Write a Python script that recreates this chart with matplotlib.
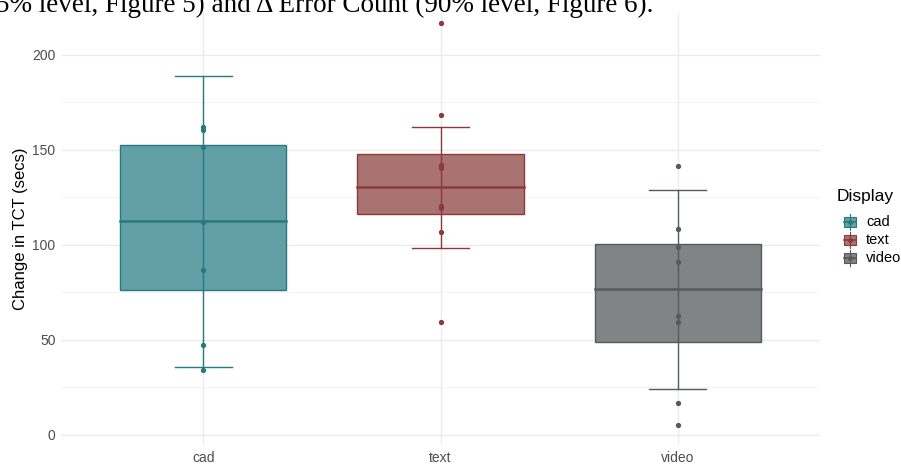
import matplotlib
matplotlib.use("Agg")
import matplotlib.pyplot as plt
from matplotlib.patches import Rectangle
from matplotlib.lines import Line2D

categories = ["cad", "text", "video"]
q1 = [76, 116, 49]
median = [112.5, 130.5, 76.5]
q3 = [152.5, 147.5, 100.5]
whisk_low = [35.5, 98, 24]
whisk_high = [189, 162, 129]
points = {
    "cad": [162, 160.5, 151.5, 112, 86.5, 47, 34.2],
    "text": [216.5, 168.4, 142, 140.4, 120.5, 119.3, 106.5, 59.5],
    "video": [141.6, 108.3, 99, 91, 62.5, 59.5, 16.5, 5.1],
}
fill_colors = ["#62a0a5", "#a97372", "#818484"]
edge_colors = ["#267a80", "#8c3a3e", "#555a5a"]
yticks = [0, 50, 100, 150, 200]
minor_yticks = [25, 75, 125, 175]

W, H = 901, 468
fig = plt.figure(figsize=(W / 100, H / 100), dpi=100)
ax = fig.add_axes([61 / W, (H - 445) / H, (820 - 61) / W, (445 - 13) / H])

xs = [1, 2, 3]
ax.set_xlim(0.4, 3.6)
ax.set_ylim(-5.5, 222)

for v in yticks:
    ax.axhline(v, color="#ebebeb", lw=1.0, zorder=0)
for v in minor_yticks:
    ax.axhline(v, color="#f2f2f2", lw=0.6, zorder=0)
for x in xs:
    ax.axvline(x, color="#ebebeb", lw=1.0, zorder=0)

bw = 0.7
cap = 0.24
for i, c in enumerate(categories):
    x = xs[i]
    ax.add_patch(Rectangle((x - bw / 2, q1[i]), bw, q3[i] - q1[i],
                           facecolor=fill_colors[i], edgecolor=edge_colors[i],
                           lw=1.0, zorder=2))
    ax.plot([x - bw / 2, x + bw / 2], [median[i], median[i]],
            color=edge_colors[i], lw=1.8, zorder=3)
    ax.plot([x, x], [whisk_low[i], whisk_high[i]], color=edge_colors[i], lw=1.0, zorder=3)
    for w in (whisk_low[i], whisk_high[i]):
        ax.plot([x - cap / 2, x + cap / 2], [w, w], color=edge_colors[i], lw=1.0, zorder=3)
    pts = points[c]
    ax.plot([x] * len(pts), pts, "o", color=edge_colors[i], ms=2.8, zorder=4, lw=0)

for s in ax.spines.values():
    s.set_visible(False)
ax.set_xticks(xs)
ax.set_xticklabels(categories)
ax.set_yticks(yticks)
ax.tick_params(length=0, labelsize=10, labelcolor="#4d4d4d", pad=4)
for lab in ax.get_xticklabels() + ax.get_yticklabels():
    lab.set_family("Liberation Sans")
ax.set_ylabel("Change in TCT (secs)", fontsize=12, family="Liberation Sans", labelpad=3)

# legend (manual)
fig.text(837 / W, 1 - 196 / H, "Display", fontsize=12.5, family="Liberation Sans",
         va="center", ha="left")
key_y = [222, 240, 258]
for i, c in enumerate(categories):
    yc = key_y[i]
    x0, x1 = 844, 856
    fig.add_artist(Rectangle((x0 / W, 1 - (yc + 5) / H), (x1 - x0) / W, 10 / H,
                             facecolor=fill_colors[i], edgecolor=edge_colors[i], lw=0.8,
                             transform=fig.transFigure))
    fig.add_artist(Line2D([x0 / W, x1 / W], [1 - yc / H, 1 - yc / H],
                          color=edge_colors[i], lw=1.2, transform=fig.transFigure))
    fig.add_artist(Line2D([850 / W, 850 / W], [1 - (yc + 8) / H, 1 - (yc - 8) / H],
                          color=edge_colors[i], lw=0.8, transform=fig.transFigure))
    fig.add_artist(Line2D([850 / W], [1 - yc / H], marker="o", ms=2.5,
                          color=edge_colors[i], transform=fig.transFigure))
    fig.text(866 / W, 1 - yc / H, c, fontsize=10.5, family="Liberation Sans",
             va="center", ha="left")

# caption fragment at top
fig.text(-4 / W, 1 - 12 / H, "5% level, Figure 5) and \u0394 Error Count (90% level, Figure 6).",
         fontsize=19.5, family="Liberation Serif", va="baseline", ha="left")

fig.savefig("out.png", dpi=100)
